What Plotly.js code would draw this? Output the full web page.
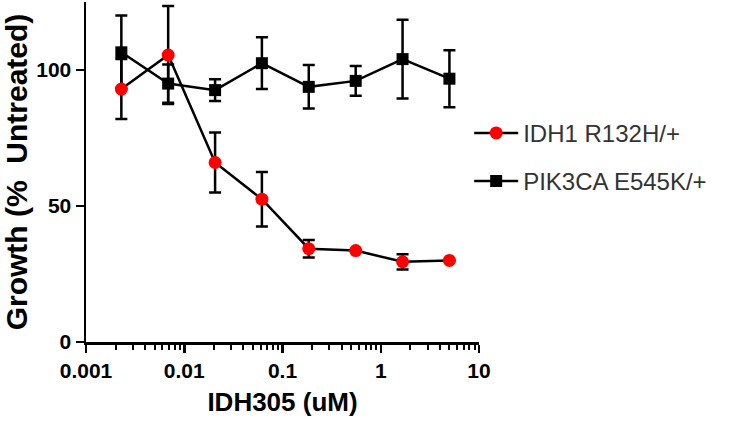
<!DOCTYPE html>
<html>
<head>
<meta charset="utf-8">
<script src="https://cdn.plot.ly/plotly-3.0.1.min.js"></script>
<style>html,body{margin:0;padding:0;background:#fff;}#chart{width:735px;height:422px;}</style>
</head>
<body>
<div id="chart"></div>
<script>
const doses = [0.00229, 0.00686, 0.0206, 0.0617, 0.185, 0.556, 1.667, 5];
const idhGrowth = [93, 105.5, 66, 52.5, 34.3, 33.6, 29.5, 30];
const idhErr = [11, 18, 11, 10, 3.2, 0, 2.8, 0];
const pikGrowth = [106.5, 95, 92.6, 102.5, 93.8, 96, 104, 96.8];
const pikErr = [13.5, 7, 4, 9.5, 8, 5.5, 14.5, 10.5];
const seriesNames = ['IDH1 R132H/+', 'PIK3CA E545K/+'];
const yTickVals = [0, 50, 100];

const FONT = 'Liberation Sans, Arial, sans-serif';

const pik = {
  x: doses, y: pikGrowth, name: seriesNames[1], type: 'scatter', mode: 'lines+markers',
  legendrank: 2, legendgroup: 'b',
  line: {color: '#000', width: 2.5},
  marker: {symbol: 'square', size: 12, color: '#000'},
  error_y: {type: 'data', array: pikErr, visible: true, color: '#000', thickness: 2.5, width: 6},
  cliponaxis: false
};
const idh = {
  x: doses, y: idhGrowth, name: seriesNames[0], type: 'scatter', mode: 'lines+markers',
  legendrank: 1, legendgroup: 'a',
  line: {color: '#000', width: 2.5},
  marker: {symbol: 'circle', size: 13, color: '#ff0000'},
  error_y: {type: 'data', array: idhErr, visible: true, color: '#000', thickness: 2.5, width: 6},
  cliponaxis: false
};

const layout = {
  width: 735, height: 422,
  margin: {l: 86, r: 256, t: 2, b: 80},
  paper_bgcolor: '#fff', plot_bgcolor: '#fff',
  showlegend: true,
  legend: {
    x: 0.975, y: 0.68, xanchor: 'left', yanchor: 'top',
    font: {family: FONT, size: 24, color: '#333'},
    traceorder: 'grouped', tracegroupgap: 14, itemwidth: 44,
    bgcolor: 'rgba(0,0,0,0)'
  },
  xaxis: {
    type: 'log', range: [-3, 1],
    tickmode: 'linear', tick0: 0, dtick: 1,
    ticks: 'outside', ticklen: 8, tickwidth: 2.5, tickcolor: '#000',
    minor: {dtick: 'D1', ticks: 'outside', ticklen: 5, tickwidth: 2, tickcolor: '#000', showgrid: false},
    showline: true, linecolor: '#000', linewidth: 2.5,
    showgrid: false, zeroline: false,
    tickfont: {family: FONT, size: 21, color: '#000', weight: 'bold'},
    title: {text: 'IDH305 (uM)', font: {family: FONT, size: 26, color: '#000', weight: 'bold'}, standoff: 12}
  },
  yaxis: {
    range: [0, 125],
    tickvals: yTickVals,
    ticks: 'outside', ticklen: 8, tickwidth: 2.5, tickcolor: '#000',
    showline: true, linecolor: '#000', linewidth: 2.5,
    showgrid: false, zeroline: false,
    tickfont: {family: FONT, size: 21, color: '#000', weight: 'bold'},
    title: {text: 'Growth (%  Untreated)', font: {family: FONT, size: 30, color: '#000', weight: 'bold'}, standoff: 4}
  }
};

Plotly.newPlot('chart', [pik, idh], layout, {displayModeBar: false, staticPlot: true});
</script>
</body>
</html>
